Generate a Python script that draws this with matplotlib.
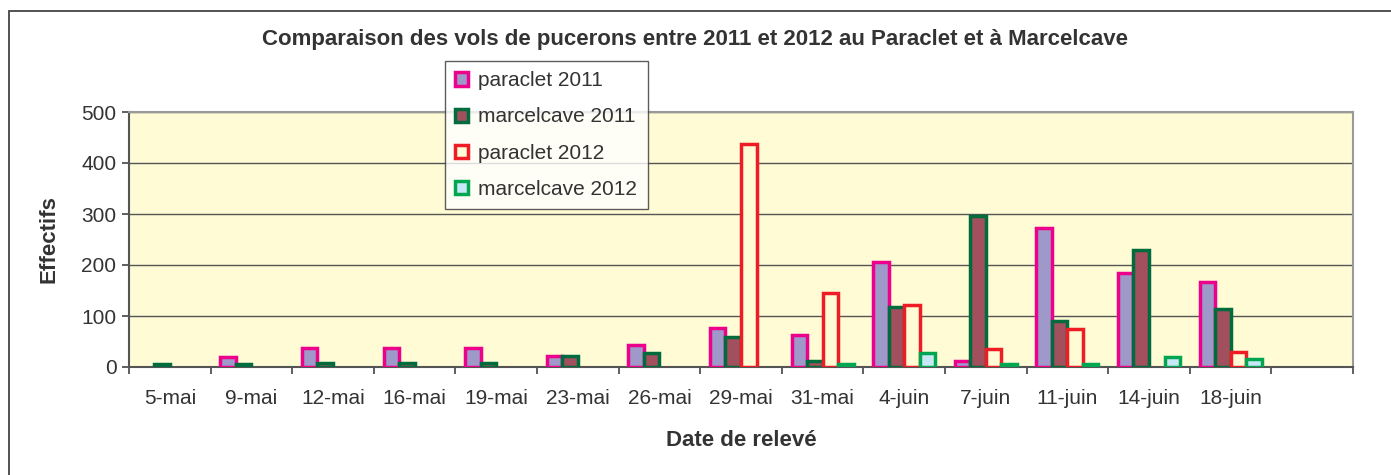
import matplotlib.pyplot as plt
from matplotlib.patches import Patch, Rectangle
import numpy as np

plt.rcParams['font.family'] = ['Liberation Sans', 'DejaVu Sans']

dates = ['5-mai', '9-mai', '12-mai', '16-mai', '19-mai', '23-mai', '26-mai',
         '29-mai', '31-mai', '4-juin', '7-juin', '11-juin', '14-juin', '18-juin', '']
paraclet_2011 = [0, 20, 37, 37, 37, 22, 43, 77, 62, 205, 12, 273, 185, 166, 0]
marcelcave_2011 = [5, 5, 8, 8, 8, 22, 28, 58, 12, 117, 297, 90, 230, 113, 0]
paraclet_2012 = [0, 0, 0, 0, 0, 0, 0, 437, 145, 122, 35, 75, 0, 30, 0]
marcelcave_2012 = [0, 0, 0, 0, 0, 0, 0, 0, 5, 28, 5, 5, 20, 15, 0]

series = [
    ('paraclet 2011', paraclet_2011, '#9E99C9', '#EC008C'),
    ('marcelcave 2011', marcelcave_2011, '#A24F5E', '#006B3C'),
    ('paraclet 2012', paraclet_2012, '#FFFBD5', '#EE1C24'),
    ('marcelcave 2012', marcelcave_2012, '#C8E8F8', '#00A650'),
]

txt = '#333333'
fs = 15
fig = plt.figure(figsize=(13.91, 4.75), dpi=100)
ax = fig.add_axes([129 / 1391, 1 - 367 / 475, (1353 - 129) / 1391, (367 - 112) / 475])
ax.set_facecolor('#FFFBD5')

x = np.arange(len(dates))
w = 0.19
handles = []
for i, (name, vals, fc, ec) in enumerate(series):
    v = np.array(vals, dtype=float)
    mask = v > 0
    ax.bar(x[mask] + (i - 1.5) * w, v[mask], width=w, color=fc, edgecolor=ec,
           linewidth=2.5, zorder=3)
    handles.append(Patch(facecolor=fc, edgecolor=ec, linewidth=2.5, label=name))

ax.set_xlim(-0.5, len(dates) - 0.5)
ax.set_ylim(0, 500)
ax.set_yticks(range(0, 501, 100))
ax.yaxis.grid(True, color='#555555', linewidth=1.0, zorder=1)
ax.set_axisbelow(True)

ax.set_xticks(x)
ax.set_xticklabels(dates)
ax.set_xticks(np.arange(-0.5, len(dates)), minor=True)
ax.tick_params(axis='x', which='major', length=0, pad=16, labelsize=fs, labelcolor=txt)
ax.tick_params(axis='x', which='minor', length=5, width=1.2, color='#444444', direction='out')
ax.tick_params(axis='y', length=5, width=1.2, color='#444444', labelsize=fs, labelcolor=txt, pad=4)

for s in ['top', 'right']:
    ax.spines[s].set_color('#9A9A9A')
    ax.spines[s].set_linewidth(1.5)
for s in ['left', 'bottom']:
    ax.spines[s].set_color('#555555')
    ax.spines[s].set_linewidth(1.5)

ax.set_xlabel('Date de relevé', fontsize=16, fontweight='bold', color=txt, labelpad=16)
ax.set_ylabel('Effectifs', fontsize=16, fontweight='bold', color=txt, labelpad=16)

fig.text(0.5, 1 - 40 / 475, 'Comparaison des vols de pucerons entre 2011 et 2012 au Paraclet et à Marcelcave',
         ha='center', va='center', fontsize=16, fontweight='bold', color=txt)

leg = ax.legend(handles=handles, loc='upper left', bbox_to_anchor=(445 / 1391, 1 - 61 / 475),
                bbox_transform=fig.transFigure, fontsize=fs, frameon=True, fancybox=False,
                handlelength=0.6, handleheight=0.6, handletextpad=0.5, labelspacing=0.82,
                borderpad=0.5, borderaxespad=0)
leg.get_frame().set_edgecolor('#333333')
leg.get_frame().set_linewidth(1.0)
for t in leg.get_texts():
    t.set_color(txt)
leg.set_zorder(10)

fig.patches.append(Rectangle((9 / 1391, -0.1), 1.2, 1 - 11 / 475 + 0.1, transform=fig.transFigure,
                             fill=False, edgecolor='#444444', linewidth=1.3))

fig.savefig('out.png', dpi=100)
